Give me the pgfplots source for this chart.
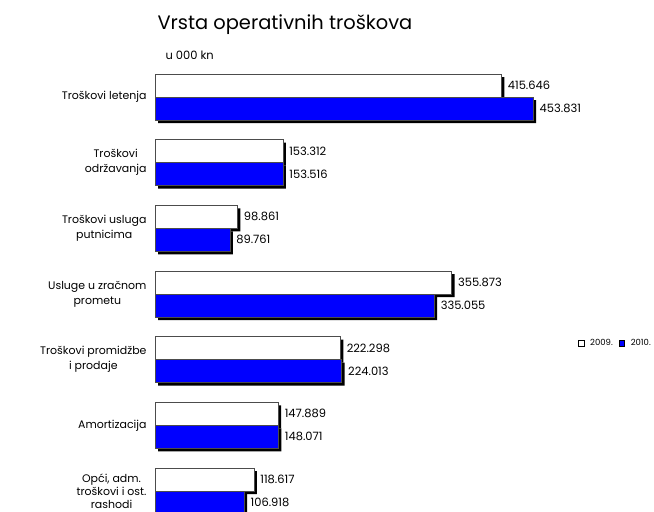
\documentclass[border=0pt]{standalone}
\usepackage{pgfplots}
\pgfplotsset{compat=1.18}
\usepackage{pgfplotstable}
\usepackage{fontspec}
\setmainfont{Poppins}
\definecolor{barblue}{RGB}{0,0,255}
\pgfplotstableread{
y v2009 v2010
6 415.646 453.831
5 153.312 153.516
4 98.861 89.761
3 355.873 335.055
2 222.298 224.013
1 147.889 148.071
0 118.617 106.918
}\data
\begin{document}
\begin{tikzpicture}
\path[use as bounding box] (0,0) rectangle (654bp,-512bp);
\node[anchor=west,font=\fontsize{19.5}{22}\selectfont] at (154bp,-25bp) {Vrsta operativnih troškova};
\node[anchor=west,font=\fontsize{11.5}{13}\selectfont] at (162bp,-55bp) {u 000 kn};
\begin{axis}[
  at={(155bp,-64.2bp)}, anchor=north west,
  scale only axis, width=500bp, height=459.7bp,
  xmin=0, xmax=600, ymin=-0.5, ymax=6.5,
  axis line style={draw=none}, tick style={draw=none},
  major tick length=0pt,
  xtick=\empty,
  ytick={0,1,2,3,4,5,6},
  yticklabels={{Opći, adm.\\[-2pt]troškovi i ost.\\[-2pt]rashodi},Amortizacija,{Troškovi promidžbe\\i prodaje},{Usluge u zračnom\\prometu},{Troškovi usluga\\putnicima},{Troškovi\\održavanja},Troškovi letenja},
  yticklabel style={align=center,font=\fontsize{11}{15}\selectfont,xshift=-5bp},
  xbar, bar width=23bp,
  legend style={draw=none,fill=none,at={(0.846,0.3935)},anchor=west,font=\fontsize{8.5}{10}\selectfont,column sep=4bp,inner sep=0pt},
  legend columns=2,
  legend image code/.code={\draw[#1,draw=black,line width=0.4pt] (0bp,-2.8bp) rectangle (5.6bp,2.8bp);},
  nodes near coords,
  every node near coord/.append style={font=\fontsize{11.5}{13}\selectfont,anchor=west,xshift=3bp},
  point meta=explicit symbolic,
]
\addplot[fill=black,draw=none,bar shift=11.5bp,transform canvas={xshift=3bp,yshift=-3bp},forget plot,nodes near coords={}] table[x=v2009,y=y,meta=v2009] {\data};
\addplot[fill=black,draw=none,bar shift=-11.5bp,transform canvas={xshift=3bp,yshift=-3bp},forget plot,nodes near coords={}] table[x=v2010,y=y,meta=v2010] {\data};
\addplot[fill=white,draw=black!70,line width=0.45pt,bar shift=11.5bp] table[x=v2009,y=y,meta=v2009] {\data};
\addplot[fill=barblue,draw=black!70,line width=0.45pt,bar shift=-11.5bp] table[x=v2010,y=y,meta=v2010] {\data};
\legend{2009.,2010.}
\end{axis}
\end{tikzpicture}
\end{document}
